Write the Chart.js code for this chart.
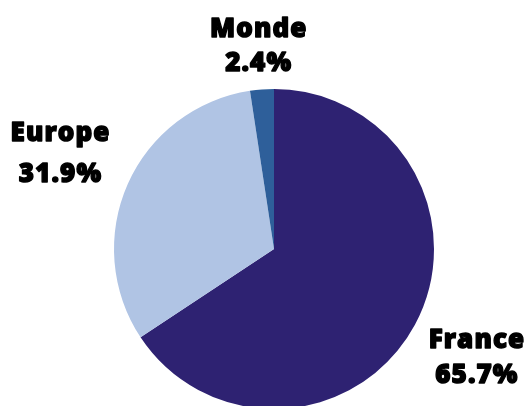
<!DOCTYPE html>
<html>
<head>
<meta charset="utf-8">
<script src="https://cdn.jsdelivr.net/npm/chart.js@4/dist/chart.umd.min.js"></script>
<style>
  html, body { margin: 0; padding: 0; background: #fff; overflow: hidden; }
  #wrap { position: relative; width: 528px; height: 412px; }
</style>
</head>
<body>
<div id="wrap"><canvas id="c"></canvas></div>
<script>
const categories = ["France", "Europe", "Monde"];
const values = [65.7, 31.9, 2.4];
const valueLabels = ["65.7%", "31.9%", "2.4%"];
const colors = ["#2e2272", "#b0c4e4", "#2e5f9a"];
// radial distance of each label (as multiple of radius) and line gap
const labelDist = [1.44, 1.46, 1.27];
const lineGap = [35, 41, 34];

const labelPlugin = {
  id: "outLabels",
  afterDatasetsDraw(chart) {
    const ctx = chart.ctx;
    const meta = chart.getDatasetMeta(0);
    ctx.save();
    ctx.fillStyle = "#000";
    ctx.strokeStyle = "#000";
    ctx.lineWidth = 1.4;
    ctx.lineJoin = "round";
    ctx.font = "800 26px 'Open Sans'";
    if ("letterSpacing" in ctx) ctx.letterSpacing = "1.1px";
    ctx.textAlign = "center";
    ctx.textBaseline = "middle";
    meta.data.forEach((arc, i) => {
      const mid = (arc.startAngle + arc.endAngle) / 2;
      const r = arc.outerRadius * labelDist[i];
      const x = arc.x + Math.cos(mid) * r;
      const y = arc.y + Math.sin(mid) * r;
      [[categories[i], y - lineGap[i] / 2], [valueLabels[i], y + lineGap[i] / 2]].forEach(([t, yy]) => {
        ctx.strokeText(t, x, yy);
        ctx.fillText(t, x, yy);
      });
    });
    ctx.restore();
  }
};

new Chart(document.getElementById("c"), {
  type: "pie",
  data: {
    labels: categories,
    datasets: [{ data: values, backgroundColor: colors, borderWidth: 0 }]
  },
  options: {
    responsive: true,
    maintainAspectRatio: false,
    animation: false,
    layout: { padding: { top: 89, bottom: 3, left: 114, right: 94 } },
    plugins: { legend: { display: false }, tooltip: { enabled: false } }
  },
  plugins: [labelPlugin]
});
</script>
</body>
</html>
